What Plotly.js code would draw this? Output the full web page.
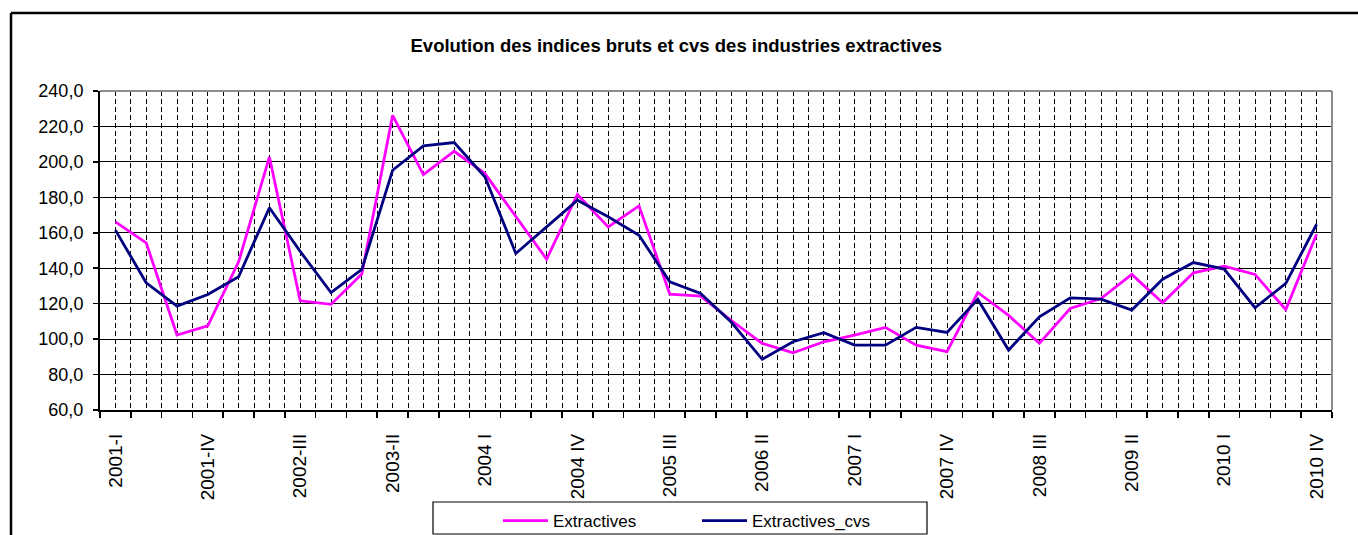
<!DOCTYPE html>
<html>
<head>
<meta charset="utf-8">
<script src="https://cdn.plot.ly/plotly-3.0.1.min.js"></script>
<style>html,body{margin:0;padding:0;background:#fff;}#chart{width:1358px;height:535px;}</style>
</head>
<body>
<div id="chart"></div>
<script>
const quarters = [
  "2001-I","2001-II","2001-III","2001-IV",
  "2002-I","2002-II","2002-III","2002-IV",
  "2003-I","2003-II","2003-III","2003-IV",
  "2004 I","2004 II","2004 III","2004 IV",
  "2005 I","2005 II","2005 III","2005 IV",
  "2006 I","2006 II","2006 III","2006 IV",
  "2007 I","2007 II","2007 III","2007 IV",
  "2008 I","2008 II","2008 III","2008 IV",
  "2009 I","2009 II","2009 III","2009 IV",
  "2010 I","2010 II","2010 III","2010 IV"
];
const extractives = [
  166.2,154.3,102.3,107.5,143.6,202.8,121.6,119.6,136.7,226.3,
  192.8,206.0,193.4,169.4,145.1,181.6,163.3,175.2,125.4,124.3,
  110.5,97.6,92.3,98.5,102.3,106.6,96.6,92.9,126.3,113.4,
  97.6,117.3,122.9,136.5,120.5,137.4,141.2,136.5,116.7,159.2
];
const extractivesCvs = [
  161.5,131.8,118.6,125.2,135.2,174.1,149.5,126.3,139.3,195.3,
  209.0,210.9,191.5,148.3,163.3,178.4,169.0,158.6,132.3,125.8,
  109.5,88.6,98.5,103.6,96.6,96.6,106.6,103.8,122.4,93.8,
  112.6,123.3,122.6,116.4,133.8,143.2,139.5,117.7,131.4,164.8
];
const seriesNames = ["Extractives", "Extractives_cvs"];
const labelStep = 3;

const xIdx = quarters.map((q, i) => i);
const boundaries = [];
for (let i = 0; i <= quarters.length; i++) boundaries.push(i - 0.5);
const labelVals = [];
const labelText = [];
quarters.forEach((q, i) => { if (i % labelStep === 0) { labelVals.push(i); labelText.push(q); } });

const FONT = "Liberation Sans, Arial, sans-serif";

const traces = [
  {x: xIdx, y: extractives, name: seriesNames[0], type: "scatter", mode: "lines",
   xaxis: "x", yaxis: "y",
   line: {color: "#FF00FF", width: 2.8}},
  {x: xIdx, y: extractivesCvs, name: seriesNames[1], type: "scatter", mode: "lines",
   xaxis: "x2", yaxis: "y",
   line: {color: "#000080", width: 2.8}}
];

// pixel -> paper helpers (plot area: x 100..1332, y 91..410)
const PL = 100, PW = 1232, PT = 91, PH = 319;
const px = v => (v - PL) / PW;
const py = v => (PT + PH - v) / PH;
const xRange = [-0.5, quarters.length - 0.5];

const layout = {
  width: 1358, height: 535,
  margin: {l: PL, r: 1358 - PL - PW, t: PT, b: 535 - PT - PH, autoexpand: false},
  paper_bgcolor: "#fff", plot_bgcolor: "#fff",
  separators: ", ",
  font: {family: FONT, color: "#000"},
  title: {text: "Evolution des indices bruts et cvs des industries extractives",
          font: {family: FONT, size: 18.5, weight: "bold", color: "#000"},
          xref: "container", x: 0.498, xanchor: "center",
          yref: "container", y: 1 - 46/535, yanchor: "middle"},
  showlegend: true,
  legend: {orientation: "h", x: px(498), xanchor: "left", y: py(503), yanchor: "top",
           font: {family: FONT, size: 17, color: "#000"},
           borderwidth: 0, bgcolor: "rgba(0,0,0,0)", itemwidth: 45, entrywidth: 139,
           traceorder: "normal"},
  xaxis: {
    type: "linear", range: xRange, fixedrange: true,
    tickmode: "array", tickvals: boundaries, showticklabels: false,
    ticks: "outside", ticklen: 6, tickwidth: 1.5, tickcolor: "#000",
    showline: true, linecolor: "#000", linewidth: 2,
    showgrid: true, gridcolor: "#000", gridwidth: 1, griddash: "5px,3px",
    zeroline: false,
    minor: {tickmode: "linear", tick0: 0, dtick: 1, ticks: "",
            showgrid: true, gridcolor: "#000", gridwidth: 1, griddash: "5px,3px"}
  },
  xaxis2: {
    type: "linear", range: xRange, fixedrange: true, overlaying: "x", anchor: "y", side: "bottom",
    tickmode: "array", tickvals: labelVals, ticktext: labelText,
    ticks: "", tickangle: -90, ticklabelstandoff: 19,
    tickfont: {family: FONT, size: 19, color: "#000"},
    showline: false, showgrid: false, zeroline: false
  },
  yaxis: {
    range: [60, 240], tickmode: "linear", tick0: 60, dtick: 20, fixedrange: true,
    tickformat: ".1f",
    ticks: "outside", ticklen: 5, tickwidth: 1.5, tickcolor: "#000",
    ticklabelstandoff: 6,
    tickfont: {family: FONT, size: 18, color: "#000"},
    showline: true, linecolor: "#000", linewidth: 2,
    showgrid: true, gridcolor: "#000", gridwidth: 1,
    zeroline: false
  },
  shapes: [
    {type: "line", xref: "paper", yref: "paper", x0: 0, x1: 1, y0: 1, y1: 1,
     line: {color: "#8c8c8c", width: 2}},
    {type: "line", xref: "paper", yref: "paper", x0: 1, x1: 1, y0: 0, y1: 1,
     line: {color: "#8c8c8c", width: 2}},
    {type: "line", xref: "paper", yref: "paper", x0: px(11), x1: px(1360), y0: py(13), y1: py(13),
     line: {color: "#000", width: 2.5}},
    {type: "line", xref: "paper", yref: "paper", x0: px(11), x1: px(11), y0: py(13), y1: py(540),
     line: {color: "#000", width: 2.5}},
    {type: "rect", xref: "paper", yref: "paper", x0: px(433), x1: px(927), y0: py(534), y1: py(502),
     line: {color: "#000", width: 1.2}, fillcolor: "rgba(0,0,0,0)"}
  ]
};

Plotly.newPlot("chart", traces, layout, {displayModeBar: false, staticPlot: true});
</script>
</body>
</html>
